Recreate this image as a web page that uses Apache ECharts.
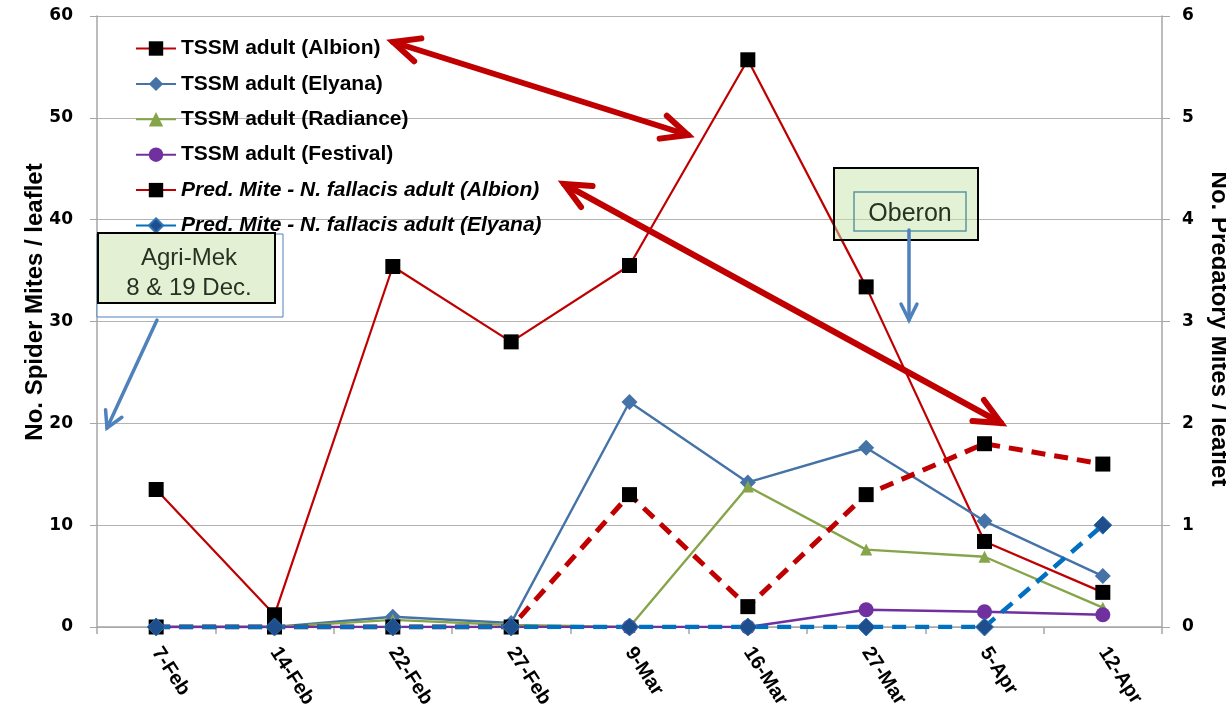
<!DOCTYPE html>
<html>
<head>
<meta charset="utf-8">
<script src="https://cdn.jsdelivr.net/npm/echarts@6/dist/echarts.min.js"></script>
<style>html,body{margin:0;padding:0;background:#fff;overflow:hidden}#c{width:1226px;height:713px}</style>
</head>
<body>
<div id="c"></div>
<script>
const categories = ['7-Feb','14-Feb','22-Feb','27-Feb','9-Mar','16-Mar','27-Mar','5-Apr','12-Apr'];
const tssmAlbion   = [13.5, 1.2, 35.4, 28.0, 35.5, 55.7, 33.4, 8.4, 3.4];
const tssmElyana   = [0, 0, 1.0, 0.4, 22.1, 14.2, 17.6, 10.4, 5.0];
const tssmRadiance = [0, 0, 0.7, 0.2, 0, 13.8, 7.6, 6.9, 1.9];
const tssmFestival = [0, 0, 0, 0, 0, 0, 1.7, 1.5, 1.2];
const predAlbion   = [0, 0, 0, 0, 1.3, 0.2, 1.3, 1.8, 1.6];
const predElyana   = [0, 0, 0, 0, 0, 0, 0, 0, 1.0];
const names = ['TSSM adult (Albion)','TSSM adult (Elyana)','TSSM adult (Radiance)','TSSM adult (Festival)',
  'Pred. Mite - N. fallacis adult (Albion)','Pred. Mite - N. fallacis adult (Elyana)'];
const leftTitle = 'No. Spider Mites / leaflet';
const rightTitle = 'No. Predatory Mites / leaflet';

const chart = echarts.init(document.getElementById('c'));
const FONT = 'Liberation Sans, Arial, sans-serif';

function arrow(x1,y1,x2,y2,color,w,both,L,W){
  const els=[];
  els.push({type:'line',z:100,shape:{x1,y1,x2,y2},style:{stroke:color,lineWidth:w,lineCap:'round'}});
  function head(px,py,ox,oy){
    const dx=px-ox, dy=py-oy, len=Math.hypot(dx,dy), ux=dx/len, uy=dy/len, nx=-uy, ny=ux;
    els.push({type:'polyline',z:100,shape:{points:[[px-L*ux+W*nx,py-L*uy+W*ny],[px,py],[px-L*ux-W*nx,py-L*uy-W*ny]]},
      style:{stroke:color,lineWidth:w,fill:null,lineCap:'round',lineJoin:'miter'}});
  }
  head(x2,y2,x1,y1);
  if(both) head(x1,y1,x2,y2);
  return els;
}

const graphics = [].concat(
  [{type:'text',z:60,x:35,y:302,rotation:Math.PI/2,style:{text:leftTitle,font:'bold 24px '+FONT,fill:'#000',align:'center',verticalAlign:'middle'}},
   {type:'text',z:60,x:1219,y:329,rotation:-Math.PI/2,style:{text:rightTitle,font:'bold 24px '+FONT,fill:'#000',align:'center',verticalAlign:'middle'}}],
  // Agri-Mek box
  [{type:'rect',z:50,shape:{x:97,y:234,width:186,height:83},style:{fill:'#fff',stroke:'#4F81BD',lineWidth:1}},
   {type:'rect',z:51,shape:{x:98,y:233,width:177,height:70},style:{fill:'#E3F0D4',stroke:'#000',lineWidth:2}},
   {type:'text',z:52,style:{x:189,y:258,text:'Agri-Mek',font:'24px '+FONT,fill:'#263322',align:'center',verticalAlign:'middle'}},
   {type:'text',z:52,style:{x:189,y:288,text:'8 & 19 Dec.',font:'24px '+FONT,fill:'#263322',align:'center',verticalAlign:'middle'}}],
  arrow(157,320,107,428,'#4F81BD',3.5,false,16,9),
  // Oberon box
  [{type:'rect',z:50,shape:{x:834,y:168,width:144,height:72},style:{fill:'rgba(200,228,170,0.5)',stroke:'#000',lineWidth:2}},
   {type:'rect',z:51,shape:{x:854,y:192,width:112,height:39},style:{fill:null,stroke:'#5B96A3',lineWidth:1.5}},
   {type:'text',z:52,style:{x:910,y:214,text:'Oberon',font:'25px '+FONT,fill:'#263322',align:'center',verticalAlign:'middle'}}],
  arrow(909,230,909,320,'#4F81BD',3.5,false,16,8),
  arrow(393,42,688,135,'#C00000',6,true,26,12),
  arrow(564,184,1001,423,'#C00000',6,true,26,12)
);

chart.setOption({
  animation:false,
  backgroundColor:'#fff',
  grid:{left:97,right:64,top:16,bottom:86,containLabel:false},
  legend:{
    orient:'vertical',left:135,top:38,padding:0,itemWidth:40,itemHeight:18,itemGap:14.4,
    textStyle:{fontFamily:FONT,fontWeight:'bold',fontSize:21,color:'#000',lineHeight:21},
    data:[
      {name:names[0]},{name:names[1]},{name:names[2]},{name:names[3]},
      {name:names[4],textStyle:{fontStyle:'italic'},lineStyle:{type:'solid'}},
      {name:names[5],textStyle:{fontStyle:'italic'},lineStyle:{type:'solid'}}
    ]
  },
  xAxis:{
    type:'category',data:categories,boundaryGap:true,
    axisLine:{lineStyle:{color:'#a6a6a6',width:1.5}},
    axisTick:{show:true,length:7,lineStyle:{color:'#a6a6a6',width:1.5}},
    axisLabel:{rotate:-57,margin:22,fontFamily:FONT,fontWeight:'bold',fontSize:20,color:'#000'}
  },
  yAxis:[
    {type:'value',min:0,max:60,interval:10,
     axisLine:{show:true,lineStyle:{color:'#a6a6a6',width:1.5}},
     axisTick:{show:true,length:7,lineStyle:{color:'#a6a6a6'}},
     axisLabel:{margin:24,fontFamily:'DejaVu Sans',fontWeight:'bold',fontSize:17,color:'#000'},
     splitLine:{show:true,lineStyle:{color:'#b3b3b3',width:1.2}}},
    {type:'value',min:0,max:6,interval:1,position:'right',
     axisLine:{show:true,lineStyle:{color:'#a6a6a6',width:1.5}},
     axisTick:{show:true,length:8,lineStyle:{color:'#a6a6a6'}},
     axisLabel:{margin:20,fontFamily:'DejaVu Sans',fontWeight:'bold',fontSize:17,color:'#000'},
     splitLine:{show:false}}
  ],
  series:[
    {name:names[0],type:'line',data:tssmAlbion,yAxisIndex:0,symbol:'rect',symbolSize:15,
     lineStyle:{color:'#C00000',width:2.2},itemStyle:{color:'#000',borderWidth:0},color:'#C00000'},
    {name:names[1],type:'line',data:tssmElyana,yAxisIndex:0,symbol:'diamond',symbolSize:16,
     lineStyle:{color:'#4572A7',width:2.4},itemStyle:{color:'#4572A7'}},
    {name:names[2],type:'line',data:tssmRadiance,yAxisIndex:0,symbol:'triangle',symbolSize:12,
     lineStyle:{color:'#86A44A',width:2.4},itemStyle:{color:'#86A44A'}},
    {name:names[3],type:'line',data:tssmFestival,yAxisIndex:0,symbol:'circle',symbolSize:15,
     lineStyle:{color:'#7030A0',width:2.4},itemStyle:{color:'#7030A0'}},
    {name:names[4],type:'line',data:predAlbion,yAxisIndex:1,symbol:'rect',symbolSize:15,
     lineStyle:{color:'#C00000',width:5,type:[14,9]},itemStyle:{color:'#000',borderWidth:0}},
    {name:names[5],type:'line',data:predElyana,yAxisIndex:1,symbol:'diamond',symbolSize:18,
     lineStyle:{color:'#0070C0',width:4.5,type:[14,9]},itemStyle:{color:'#1F4E8C',borderColor:'#2E75B6',borderWidth:1}}
  ],
  graphic:graphics
});
</script>
</body>
</html>
